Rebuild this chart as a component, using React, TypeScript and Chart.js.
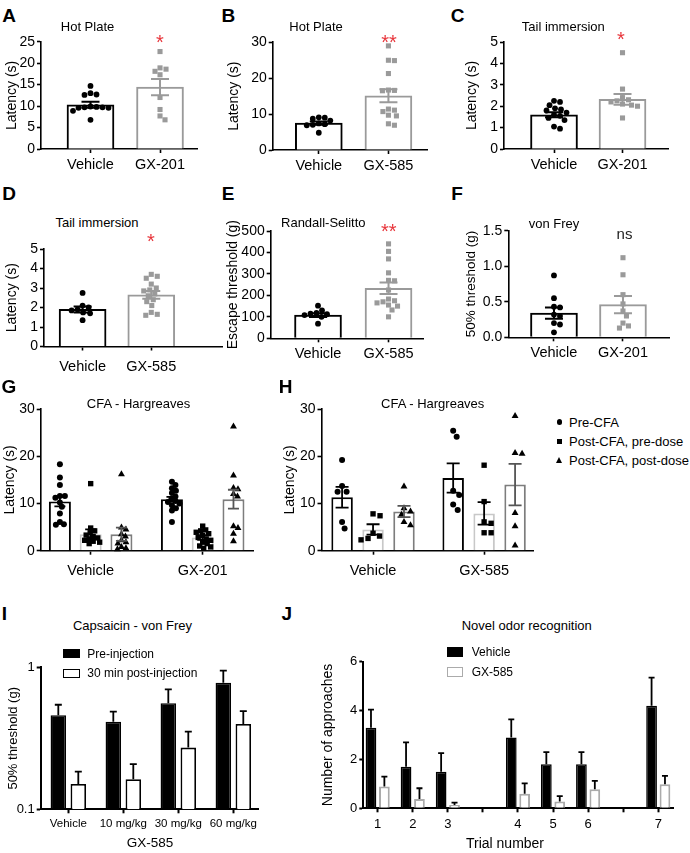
import React, { useEffect, useRef } from 'react';
import { Chart, registerables } from 'chart.js';

Chart.register(...registerables);

const FF = "'Liberation Sans', Arial, Helvetica, sans-serif";
Chart.defaults.font.family = FF;
Chart.defaults.color = '#000';

// ================= DATA =================
const groupsGX201 = ['Vehicle', 'GX-201'];
const groupsGX585 = ['Vehicle', 'GX-585'];

// A — Hot Plate (GX-201)
const aYTicks = [0, 5, 10, 15, 20, 25];
const aVehiclePts = [14.7, 13.0, 12.7, 12.6, 9.9, 9.8, 9.7, 9.7, 9.6, 9.6, 8.9, 6.8];
const aDrugPts = [22.7, 18.9, 18.6, 18.1, 17.3, 12.0, 9.2, 7.7, 6.8];
const aMeans = [10.3, 14.4];
const aSems = [0.7, 1.9];

// B — Hot Plate (GX-585)
const bYTicks = [0, 10, 20, 30];
const bVehiclePts = [9.1, 9.0, 8.7, 8.2, 7.4, 7.2, 7.0, 6.9, 4.8];
const bDrugPts = [29.0, 25.0, 24.9, 21.3, 16.7, 16.6, 16.5, 11.4, 11.1, 10.7, 9.7, 9.5, 7.3, 6.9];
const bMeans = [7.5, 15.1];
const bSems = [0.45, 1.8];

// C — Tail immersion (GX-201)
const cYTicks = [0, 1, 2, 3, 4, 5];
const cVehiclePts = [2.25, 2.2, 2.05, 1.9, 1.85, 1.8, 1.7, 1.6, 1.55, 1.45, 1.35, 1.05, 0.95];
const cDrugPts = [4.5, 2.8, 2.4, 2.3, 2.25, 2.2, 2.1, 2.05, 2.0, 1.45];
const cMeans = [1.6, 2.32];
const cSems = [0.12, 0.25];

// D — Tail immersion (GX-585)
const dYTicks = [0, 1, 2, 3, 4, 5];
const dVehiclePts = [2.75, 2.1, 2.0, 1.9, 1.85, 1.75, 1.7, 1.35];
const dDrugPts = [3.7, 3.6, 3.5, 3.2, 3.0, 2.9, 2.85, 2.7, 2.6, 2.4, 2.3, 2.1, 1.75, 1.65, 1.6];
const dMeans = [1.9, 2.65];
const dSems = [0.15, 0.2];

// E — Randall-Selitto (GX-585)
const eYTicks = [0, 100, 200, 300, 400, 500];
const eVehiclePts = [152, 130, 118, 115, 112, 108, 100, 68];
const eDrugPts = [440, 405, 370, 305, 270, 268, 225, 183, 175, 170, 165, 155, 150, 132, 100];
const eMeans = [108, 233];
const eSems = [9, 27];

// F — von Frey (GX-201)
const fYTicks = [0, 0.5, 1.0, 1.5];
const fYTickLabels = ['0.0', '0.5', '1.0', '1.5'];
const fVehiclePts = [0.87, 0.55, 0.43, 0.42, 0.32, 0.3, 0.2, 0.18, 0.07];
const fDrugPts = [1.12, 0.88, 0.6, 0.47, 0.37, 0.3, 0.2, 0.16, 0.13];
const fMeans = [0.34, 0.46];
const fSems = [0.08, 0.12];

// G — CFA Hargreaves (GX-201)
const cfaSeries = ['Pre-CFA', 'Post-CFA, pre-dose', 'Post-CFA, post-dose'];
const gYTicks = [0, 10, 20, 30];
const gPreVeh = [18.3, 15.5, 13.9, 11.6, 11.6, 11.2, 10.2, 9.3, 7.9, 6.1, 5.6, 5.5];
const gPreDrug = [14.6, 13.9, 13.2, 12.7, 12.2, 11.5, 11.0, 10.5, 10.3, 10.0, 9.6, 9.0, 8.5, 6.1];
const gPostPreVeh = [14.2, 4.8, 4.2, 3.8, 3.3, 3.0, 2.7, 2.5, 2.2, 2.0, 1.8, 1.5];
const gPostPreDrug = [5.2, 4.4, 4.2, 3.9, 3.6, 3.2, 2.8, 2.5, 2.2, 1.8, 1.5, 1.0, 0.8, 0.5];
const gPostPostVeh = [16.2, 4.9, 4.5, 3.5, 3.0, 2.2, 1.8, 1.5, 0.8, 0.5, 0.3];
const gPostPostDrug = [26.3, 15.9, 13.3, 13.0, 12.0, 11.5, 5.2, 4.8, 3.6, 2.0];
const gMeansPre = [10.4, 10.9];
const gSemsPre = [1.0, 0.5];
const gMeansPostPre = [3.5, 2.8];
const gSemsPostPre = [1.0, 0.5];
const gMeansPostPost = [3.5, 10.9];
const gSemsPostPost = [1.4, 2.0];

// H — CFA Hargreaves (GX-585)
const hYTicks = [0, 10, 20, 30];
const hPreVeh = [19.2, 13.7, 12.5, 12.5, 6.1, 4.7];
const hPreDrug = [25.4, 24.1, 12.7, 11.8, 9.8, 8.6];
const hPostPreVeh = [7.8, 7.4, 3.7, 3.1, 2.6, 2.3];
const hPostPreDrug = [18.1, 10.4, 6.1, 5.8, 3.8, 3.8];
const hPostPostVeh = [13.6, 9.0, 8.3, 7.6, 6.1, 5.4];
const hPostPostDrug = [28.5, 20.7, 20.5, 8.0, 5.2, 1.1];
const hMeansPre = [11.3, 15.4];
const hSemsPre = [2.2, 3.1];
const hMeansPostPre = [4.5, 7.9];
const hSemsPostPre = [1.1, 2.4];
const hMeansPostPost = [8.3, 14.0];
const hSemsPostPost = [1.2, 4.4];

// I — Capsaicin von Frey
const iGroups = ['Vehicle', '10 mg/kg', '30 mg/kg', '60 mg/kg'];
const iSeries = ['Pre-injection', '30 min post-injection'];
const iYTicks = [0.1, 1];
const iYTickLabels = ['0.1', '1'];
const iPre = [0.46, 0.414, 0.558, 0.779];
const iPreErr = [0.085, 0.073, 0.142, 0.167];
const iPost = [0.151, 0.163, 0.272, 0.399];
const iPostErr = [0.033, 0.045, 0.08, 0.093];

// J — Novel odor recognition
const jTrials = ['1', '2', '3', '', '4', '5', '6', '', '7'];
const jSeries = ['Vehicle', 'GX-585'];
const jYTicks = [0, 2, 4, 6];
const jVehicle = [3.3, 1.7, 1.5, null, 2.9, 1.8, 1.8, null, 4.2];
const jVehicleErr = [0.74, 1.0, 0.76, null, 0.74, 0.5, 0.5, null, 1.15];
const jDrug = [0.89, 0.38, 0.14, null, 0.6, 0.28, 0.78, null, 0.98];
const jDrugErr = [0.41, 0.44, 0.09, null, 0.42, 0.22, 0.34, null, 0.35];

// ================= PLUGINS =================
const swarmPlugin = {
  id: 'swarm',
  beforeDatasetsDraw(chart: any) {
    chart.data.datasets.forEach((ds: any, di: number) => {
      if (ds.barRef == null) return;
      const meta = chart.getDatasetMeta(di);
      const barMeta = chart.getDatasetMeta(ds.barRef);
      const groups = new Map<number, any[]>();
      meta.data.forEach((pt: any, i: number) => {
        const g = ds.data[i].x;
        if (!groups.has(g)) groups.set(g, []);
        groups.get(g)!.push(pt);
      });
      groups.forEach((pts, g) => {
        const bar = barMeta.data[g];
        if (!bar) return;
        const cx = bar.x;
        const d = ds.swarmD;
        const placed: { x: number; y: number }[] = [];
        pts
          .slice()
          .sort((a, b) => a.y - b.y)
          .forEach((pt) => {
            let off = 0;
            for (let k = 0; k < 400; k++) {
              const cand = k === 0 ? 0 : (k % 2 ? 1 : -1) * Math.ceil(k / 2) * 0.5;
              if (placed.every((p) => Math.hypot(p.x - cand, p.y - pt.y) >= d)) {
                off = cand;
                break;
              }
            }
            placed.push({ x: off, y: pt.y });
            pt.x = cx + off;
          });
      });
    });
  },
};

const errorBarPlugin = {
  id: 'errorBars',
  afterDatasetsDraw(chart: any) {
    const ctx = chart.ctx;
    const ys = chart.scales.y;
    chart.data.datasets.forEach((ds: any, di: number) => {
      if (ds.type !== 'bar' || ds.capW == null) return;
      const meta = chart.getDatasetMeta(di);
      meta.data.forEach((el: any, i: number) => {
        const d = ds.data[i];
        if (!d || d.e == null) return;
        const x = el.x;
        const yHi = ys.getPixelForValue(d.y + d.e);
        const yLo = ds.errUp ? ys.getPixelForValue(d.y) : ys.getPixelForValue(d.y - d.e);
        const col = Array.isArray(ds.errColor) ? ds.errColor[i] : ds.errColor;
        const hw = ds.capW / 2;
        ctx.save();
        ctx.strokeStyle = col;
        ctx.lineWidth = ds.errWidth;
        ctx.beginPath();
        ctx.moveTo(x, yLo);
        ctx.lineTo(x, yHi);
        ctx.moveTo(x - hw, yHi);
        ctx.lineTo(x + hw, yHi);
        if (!ds.errUp) {
          ctx.moveTo(x - hw, yLo);
          ctx.lineTo(x + hw, yLo);
        }
        ctx.stroke();
        ctx.restore();
      });
    });
  },
};

// ================= DATASET BUILDERS =================
const GRAY = '#9a9a9a';

function twoGroupDatasets(vehPts: number[], drugPts: number[], means: number[], sems: number[]) {
  return [
    {
      type: 'bar',
      data: means.map((m, i) => ({ x: i, y: m, e: sems[i] })),
      backgroundColor: '#fff',
      borderColor: ['#000', GRAY],
      borderWidth: 2,
      barThickness: 47,
      order: 2,
      errColor: ['#000', GRAY],
      errWidth: 2,
      capW: 18,
    },
    {
      type: 'scatter',
      data: vehPts.map((v) => ({ x: 0, y: v })),
      pointStyle: 'circle',
      pointRadius: 2.9,
      pointBackgroundColor: '#000',
      pointBorderWidth: 0,
      order: 1,
      barRef: 0,
      swarmD: 6,
      clip: false,
    },
    {
      type: 'scatter',
      data: drugPts.map((v) => ({ x: 1, y: v })),
      pointStyle: 'rect',
      pointRadius: 3.6,
      pointBackgroundColor: GRAY,
      pointBorderWidth: 0,
      order: 1,
      barRef: 0,
      swarmD: 6,
      clip: false,
    },
  ];
}

function cfaDatasets(
  pre: number[][],
  postPre: number[][],
  postPost: number[][],
  means: number[][],
  sems: number[][],
  capW: number,
  swarmD: number
) {
  const barColors = ['#000', '#c8c8c8', '#7d7d7d'];
  const errColors = ['#000', '#000', '#555'];
  const styles = ['circle', 'rect', 'triangle'];
  const radii = [3, 3.8, 4];
  const pts = [pre, postPre, postPost];
  const bars = cfaSeries.map((label, s) => ({
    type: 'bar',
    label,
    data: means[s].map((m, i) => ({ x: i, y: m, e: sems[s][i] })),
    backgroundColor: '#fff',
    borderColor: barColors[s],
    borderWidth: 2,
    order: 2,
    errColor: errColors[s],
    errWidth: 1.8,
    capW,
  }));
  const scatters = cfaSeries.map((label, s) => ({
    type: 'scatter',
    label,
    data: [...pts[s][0].map((v) => ({ x: 0, y: v })), ...pts[s][1].map((v) => ({ x: 1, y: v }))],
    pointStyle: styles[s],
    pointRadius: radii[s],
    pointBackgroundColor: '#000',
    pointBorderWidth: 0,
    order: 1,
    barRef: s,
    swarmD,
    clip: false,
  }));
  return [...bars, ...scatters];
}

function upBars(vals: (number | null)[], errs: (number | null)[], label: string, fill: string, border: string, bw: number, capW: number) {
  return {
    type: 'bar',
    label,
    data: vals
      .map((v, i) => (v == null ? null : { x: i, y: v, e: errs[i] }))
      .filter((d) => d != null),
    backgroundColor: fill,
    borderColor: border,
    borderWidth: bw,
    order: 2,
    errColor: '#000',
    errWidth: 1.8,
    capW,
    errUp: true,
  };
}

// ================= CONFIG =================
function makeConfig(s: any) {
  const yHalf = s.yTitleSize * 0.6;
  const yLeft = s.yTitleCX - yHalf;
  const yW = s.area.l - yLeft;
  const xH = 30;
  const padding = {
    left: yLeft - s.canvas.x,
    top: s.area.t - s.canvas.y,
    right: s.canvas.x + s.canvas.w - s.area.r,
    bottom: s.canvas.y + s.canvas.h - s.area.b - xH,
  };
  const aw = s.axisWidth;
  const grid = {
    display: true,
    offset: false,
    drawOnChartArea: false,
    drawTicks: true,
    tickLength: 4,
    tickWidth: aw,
    tickColor: '#000',
    color: '#000',
  };
  return {
    type: 'bar',
    data: { datasets: s.datasets },
    plugins: [swarmPlugin, errorBarPlugin],
    options: {
      responsive: false,
      animation: false,
      events: [],
      devicePixelRatio: 1,
      layout: { padding },
      plugins: { legend: { display: false }, tooltip: { enabled: false }, title: { display: false } },
      datasets: { bar: { categoryPercentage: s.catPct ?? 1, barPercentage: s.barPct ?? 1 } },
      scales: {
        x: {
          type: 'linear',
          min: s.xMin,
          max: s.xMax,
          offset: false,
          bounds: 'data',
          afterBuildTicks: (sc: any) => {
            sc.ticks = s.xTicks.map((v: number) => ({ value: v }));
          },
          afterFit: (sc: any) => {
            sc.height = xH;
          },
          ticks: {
            autoSkip: false,
            maxRotation: 0,
            minRotation: 0,
            padding: s.xTickPad,
            color: '#000',
            font: { size: s.xLabelSize, family: FF },
            callback: (_v: any, i: number) => s.xLabels[i],
          },
          grid,
          border: { display: true, color: '#000', width: aw },
        },
        y: {
          type: s.yLog ? 'logarithmic' : 'linear',
          min: s.yMin,
          max: s.yMax,
          bounds: 'data',
          afterBuildTicks: (sc: any) => {
            sc.ticks = s.yTicks.map((v: number) => ({ value: v }));
          },
          afterFit: (sc: any) => {
            sc.width = yW;
          },
          ticks: {
            autoSkip: false,
            padding: 2,
            color: '#000',
            font: { size: s.yTickSize, family: FF },
            callback: (_v: any, i: number) => s.yLabels[i],
          },
          grid,
          border: { display: true, color: '#000', width: aw },
          title: {
            display: true,
            text: s.yTitle,
            color: '#000',
            padding: 0,
            font: { size: s.yTitleSize, family: FF },
          },
        },
      },
    },
  };
}

const common = { axisWidth: 1.6, yTickSize: 14, xLabelSize: 14.5, yTitleSize: 14 };

const specs: any[] = [
  {
    ...common,
    canvas: { x: 0, y: 28, w: 226, h: 152 },
    area: { l: 41, t: 41.7, r: 197, b: 149 },
    yTitle: 'Latency (s)', yTitleCX: 11.7,
    yMin: 0, yMax: 25, yTicks: aYTicks, yLabels: aYTicks.map(String),
    xMin: -0.712, xMax: 1.532, xTicks: [0, 1], xLabels: groupsGX201, xTickPad: 3.3,
    datasets: twoGroupDatasets(aVehiclePts, aDrugPts, aMeans, aSems),
  },
  {
    ...common,
    canvas: { x: 226, y: 28, w: 226, h: 152 },
    area: { l: 272.7, t: 42.3, r: 427, b: 150 },
    yTitle: 'Latency (s)', yTitleCX: 234.5,
    yMin: 0, yMax: 30, yTicks: bYTicks, yLabels: bYTicks.map(String),
    xMin: -0.662, xMax: 1.554, xTicks: [0, 1], xLabels: groupsGX585, xTickPad: 3.3,
    datasets: twoGroupDatasets(bVehiclePts, bDrugPts, bMeans, bSems),
  },
  {
    ...common,
    canvas: { x: 456, y: 28, w: 234, h: 152 },
    area: { l: 504, t: 42, r: 668, b: 149 },
    yTitle: 'Latency (s)', yTitleCX: 471.7,
    yMin: 0, yMax: 5, yTicks: cYTicks, yLabels: cYTicks.map(String),
    xMin: -0.73, xMax: 1.664, xTicks: [0, 1], xLabels: groupsGX201, xTickPad: 3.3,
    datasets: twoGroupDatasets(cVehiclePts, cDrugPts, cMeans, cSems),
  },
  {
    ...common,
    canvas: { x: 0, y: 235, w: 226, h: 150 },
    area: { l: 44, t: 249, r: 222, b: 346.5 },
    yTitle: 'Latency (s)', yTitleCX: 11.7,
    yMin: 0, yMax: 5, yTicks: dYTicks, yLabels: dYTicks.map(String),
    xMin: -0.562, xMax: 2.03, xTicks: [0, 1], xLabels: groupsGX585, xTickPad: 7.5,
    datasets: twoGroupDatasets(dVehiclePts, dDrugPts, dMeans, dSems),
  },
  {
    ...common,
    canvas: { x: 222, y: 217, w: 234, h: 160 },
    area: { l: 270.7, t: 231, r: 423, b: 338.3 },
    yTitle: 'Escape threshold (g)', yTitleCX: 233,
    yMin: 0, yMax: 500, yTicks: eYTicks, yLabels: eYTicks.map(String),
    xMin: -0.671, xMax: 1.489, xTicks: [0, 1], xLabels: groupsGX585, xTickPad: 3.3,
    datasets: twoGroupDatasets(eVehiclePts, eDrugPts, eMeans, eSems),
  },
  {
    ...common,
    yTitleSize: 13.5,
    canvas: { x: 456, y: 217, w: 234, h: 160 },
    area: { l: 508.3, t: 230.7, r: 669, b: 337.3 },
    yTitle: '50% threshold (g)', yTitleCX: 471.7,
    yMin: 0, yMax: 1.5, yTicks: fYTicks, yLabels: fYTickLabels,
    xMin: -0.662, xMax: 1.667, xTicks: [0, 1], xLabels: groupsGX201, xTickPad: 3.3,
    datasets: twoGroupDatasets(fVehiclePts, fDrugPts, fMeans, fSems),
  },
  {
    ...common,
    canvas: { x: 0, y: 395, w: 270, h: 195 },
    area: { l: 40.7, t: 409, r: 253, b: 550.7 },
    yTitle: 'Latency (s)', yTitleCX: 10,
    yMin: 0, yMax: 30, yTicks: gYTicks, yLabels: gYTicks.map(String),
    xMin: -0.446, xMax: 1.449, xTicks: [0, 1], xLabels: groupsGX201, xTickPad: 7.5,
    catPct: 0.824, barPct: 0.715,
    datasets: cfaDatasets(
      [gPreVeh, gPreDrug],
      [gPostPreVeh, gPostPreDrug],
      [gPostPostVeh, gPostPostDrug],
      [gMeansPre, gMeansPostPre, gMeansPostPost],
      [gSemsPre, gSemsPostPre, gSemsPostPost],
      11,
      4.6
    ),
  },
  {
    ...common,
    canvas: { x: 270, y: 395, w: 280, h: 195 },
    area: { l: 321.5, t: 409, r: 533, b: 550.7 },
    yTitle: 'Latency (s)', yTitleCX: 290,
    yMin: 0, yMax: 30, yTicks: hYTicks, yLabels: hYTicks.map(String),
    xMin: -0.464, xMax: 1.44, xTicks: [0, 1], xLabels: groupsGX585, xTickPad: 7.5,
    catPct: 0.836, barPct: 0.694,
    datasets: cfaDatasets(
      [hPreVeh, hPreDrug],
      [hPostPreVeh, hPostPreDrug],
      [hPostPostVeh, hPostPostDrug],
      [hMeansPre, hMeansPostPre, hMeansPostPost],
      [hSemsPre, hSemsPostPre, hSemsPostPost],
      13,
      7
    ),
  },
  {
    axisWidth: 2, yTickSize: 13, xLabelSize: 11.5, yTitleSize: 13,
    canvas: { x: 0, y: 650, w: 280, h: 203 },
    area: { l: 40.7, t: 667.3, r: 258, b: 809.3 },
    yTitle: '50% threshold (g)', yTitleCX: 13.3,
    yLog: true, yMin: 0.1, yMax: 1, yTicks: iYTicks, yLabels: iYTickLabels,
    xMin: -0.502, xMax: 3.449, xTicks: [0, 1, 2, 3], xLabels: iGroups, xTickPad: 3.8,
    catPct: 0.727, barPct: 0.775,
    datasets: [
      upBars(iPre, iPreErr, iSeries[0], '#000', '#000', 1.5, 7),
      upBars(iPost, iPostErr, iSeries[1], '#fff', '#000', 1.8, 7),
    ],
  },
  {
    axisWidth: 2, yTickSize: 13, xLabelSize: 13, yTitleSize: 14,
    canvas: { x: 315, y: 645, w: 375, h: 208 },
    area: { l: 363.3, t: 661.7, r: 673, b: 808.3 },
    yTitle: 'Number of approaches', yTitleCX: 328,
    yMin: 0, yMax: 6, yTicks: jYTicks, yLabels: jYTicks.map(String),
    xMin: -0.41, xMax: 8.42, xTicks: jTrials.map((_t, i) => i), xLabels: jTrials, xTickPad: 3.9,
    catPct: 0.764, barPct: 0.8,
    datasets: [
      upBars(jVehicle, jVehicleErr, jSeries[0], '#000', '#000', 1.5, 6),
      upBars(jDrug, jDrugErr, jSeries[1], '#fff', '#ababab', 2, 6),
    ],
  },
];

// ================= COMPONENTS =================
function ChartBox({ spec }: { spec: any }) {
  const ref = useRef<HTMLCanvasElement | null>(null);
  useEffect(() => {
    const chart = new Chart(ref.current as any, makeConfig(spec) as any);
    return () => chart.destroy();
  }, []);
  const c = spec.canvas;
  return (
    <canvas
      ref={ref}
      width={c.w}
      height={c.h}
      style={{ position: 'absolute', left: c.x, top: c.y, width: c.w, height: c.h }}
    />
  );
}

function T({ x, y, s, b, c, left, children }: any) {
  return (
    <div
      style={{
        position: 'absolute',
        left: x,
        top: y,
        transform: left ? 'translate(0,-50%)' : 'translate(-50%,-50%)',
        fontSize: s,
        fontWeight: b ? 'bold' : 'normal',
        color: c || '#000',
        fontFamily: FF,
        lineHeight: 1,
        whiteSpace: 'nowrap',
      }}
    >
      {children}
    </div>
  );
}

function Box({ x, y, w, h, fill, border, bw }: any) {
  return (
    <div
      style={{
        position: 'absolute',
        left: x,
        top: y,
        width: w,
        height: h,
        boxSizing: 'border-box',
        background: fill,
        border: border ? `${bw}px solid ${border}` : 'none',
      }}
    />
  );
}

const RED = '#e8363c';

export default function App() {
  return (
    <div
      style={{
        position: 'absolute',
        left: 0,
        top: 0,
        width: 690,
        height: 853,
        background: '#fff',
        overflow: 'hidden',
      }}
    >
      {specs.map((s, i) => (
        <ChartBox key={i} spec={s} />
      ))}

      {/* panel letters */}
      <T x={9.2} y={14.7} s={19} b>A</T>
      <T x={228.3} y={14.7} s={19} b>B</T>
      <T x={457.5} y={14.7} s={19} b>C</T>
      <T x={9} y={193} s={19} b>D</T>
      <T x={228} y={193} s={19} b>E</T>
      <T x={457} y={193} s={19} b>F</T>
      <T x={9} y={385.5} s={19} b>G</T>
      <T x={285.7} y={385.5} s={19} b>H</T>
      <T x={4.5} y={613.3} s={19} b>I</T>
      <T x={286.7} y={613.3} s={19} b>J</T>

      {/* panel titles */}
      <T x={87.5} y={26} s={13}>Hot Plate</T>
      <T x={316} y={26} s={13}>Hot Plate</T>
      <T x={563.3} y={26} s={13}>Tail immersion</T>
      <T x={97} y={222} s={13}>Tail immersion</T>
      <T x={323.3} y={222} s={13}>Randall-Selitto</T>
      <T x={554} y={222.5} s={13}>von Frey</T>
      <T x={138.5} y={403} s={13}>CFA - Hargreaves</T>
      <T x={432.7} y={403} s={13}>CFA - Hargreaves</T>
      <T x={132.5} y={625} s={13}>Capsaicin - von Frey</T>
      <T x={526.7} y={625} s={13}>Novel odor recognition</T>

      {/* significance marks */}
      <T x={160} y={41.5} s={20} c={RED}>*</T>
      <T x={389} y={41.5} s={20} c={RED}>**</T>
      <T x={621} y={39} s={20} c={RED}>*</T>
      <T x={151} y={240.5} s={20} c={RED}>*</T>
      <T x={388.7} y={230.5} s={20} c={RED}>**</T>
      <T x={624.5} y={233.4} s={15} c="#222">ns</T>

      {/* H legend */}
      <div style={{ position: 'absolute', left: 556.5, top: 419.2, width: 5.5, height: 5.5, borderRadius: '50%', background: '#000' }} />
      <Box x={556.5} y={438.5} w={5} h={5} fill="#000" />
      <div
        style={{
          position: 'absolute',
          left: 555.5,
          top: 457,
          width: 0,
          height: 0,
          borderLeft: '3.5px solid transparent',
          borderRight: '3.5px solid transparent',
          borderBottom: '6px solid #000',
        }}
      />
      <T x={569} y={421.7} s={13} left>{cfaSeries[0]}</T>
      <T x={569} y={441} s={13} left>{cfaSeries[1]}</T>
      <T x={569} y={460.3} s={13} left>{cfaSeries[2]}</T>

      {/* I legend */}
      <Box x={63.3} y={649.3} w={16.7} h={9} fill="#000" />
      <Box x={63.3} y={669} w={16.7} h={9} fill="#fff" border="#000" bw={1.6} />
      <T x={87.3} y={654} s={12} left>{iSeries[0]}</T>
      <T x={87.3} y={673.3} s={12} left>{iSeries[1]}</T>
      <T x={150} y={843} s={13.5}>GX-585</T>

      {/* J legend */}
      <Box x={446.7} y={647.3} w={16.6} h={9.4} fill="#000" />
      <Box x={446.7} y={667.3} w={16.6} h={10} fill="#fff" border="#ababab" bw={1.8} />
      <T x={471.7} y={652} s={12} left>{jSeries[0]}</T>
      <T x={471.7} y={672} s={12} left>{jSeries[1]}</T>
      <T x={505} y={843} s={14}>Trial number</T>
    </div>
  );
}
